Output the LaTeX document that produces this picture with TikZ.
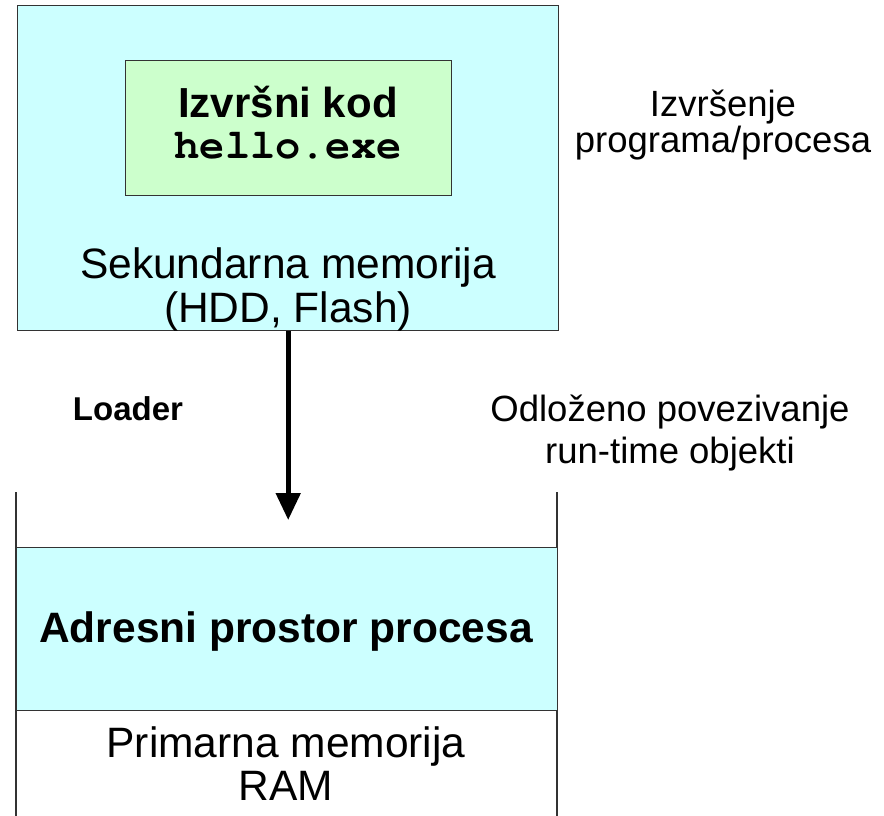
\documentclass[tikz,border=0pt]{standalone}
\usepackage{fontspec}
\setmainfont{Liberation Sans}
\newfontfamily\codefont{texgyrecursor-bold.otf}
\usetikzlibrary{arrows.meta}
\definecolor{memcyan}{HTML}{CCFFFF}
\definecolor{codegreen}{HTML}{CCFFCC}
\definecolor{edgegray}{HTML}{333333}
\begin{document}
\begin{tikzpicture}[x=1pt, y=-1pt,
  box/.style={draw=edgegray, line width=1.4pt, inner sep=0pt, anchor=north west},
  bigtxt/.style={font=\fontsize{42.5}{46}\selectfont, anchor=base, inner sep=0pt},
  bigbold/.style={font=\fontsize{42}{46}\selectfont\bfseries, anchor=base, inner sep=0pt},
  sidetxt/.style={font=\fontsize{36.5}{40}\selectfont, anchor=base, inner sep=0pt},
  flow/.style={line width=5pt, -{Triangle[length=27pt, width=24pt]}}]
\useasboundingbox (0,0) rectangle (884,815);

% secondary storage with the executable file
\node[box, fill=memcyan, minimum width=541pt, minimum height=325pt] (disk) at (17,5) {};
\node[box, fill=codegreen, minimum width=326pt, minimum height=135pt] (exe) at (125,60) {};
\node[bigbold] (exetitle) at (288,117) {Izvršni kod};
\node[bigbold, font=\fontsize{42}{46}\selectfont\codefont] (exefile) at (288,158) {hello.exe};
\node[bigtxt] (disk1) at (288,278) {Sekundarna memorija};
\node[bigtxt] (disk2) at (288,322) {(HDD, Flash)};

% primary memory with the process address space
\draw[edgegray, line width=1.4pt] (16,492) -- (16,816) (557,492) -- (557,816);
\node[box, fill=memcyan, minimum width=541pt, minimum height=163pt] (aspace) at (16,547) {};
\node[bigbold, font=\fontsize{42.5}{46}\selectfont\bfseries] (aspacelbl) at (286,642) {Adresni prostor procesa};
\node[bigtxt] (ram1) at (286,757) {Primarna memorija};
\node[bigtxt] (ram2) at (286,800) {RAM};

% loading the program
\coordinate (loadtip) at (disk.south |- 0,520);
\draw[flow] (disk.south) -- (loadtip);
\node[sidetxt, font=\fontsize{33}{40}\selectfont\bfseries] (loader) at (128,420) {Loader};

% side notes
\node[sidetxt] (exec1) at (723,116) {Izvršenje};
\node[sidetxt] (exec2) at (723,152) {programa/procesa};
\node[sidetxt] (late1) at (670,421) {Odloženo povezivanje};
\node[sidetxt] (late2) at (670,463) {run-time objekti};
\end{tikzpicture}
\end{document}
